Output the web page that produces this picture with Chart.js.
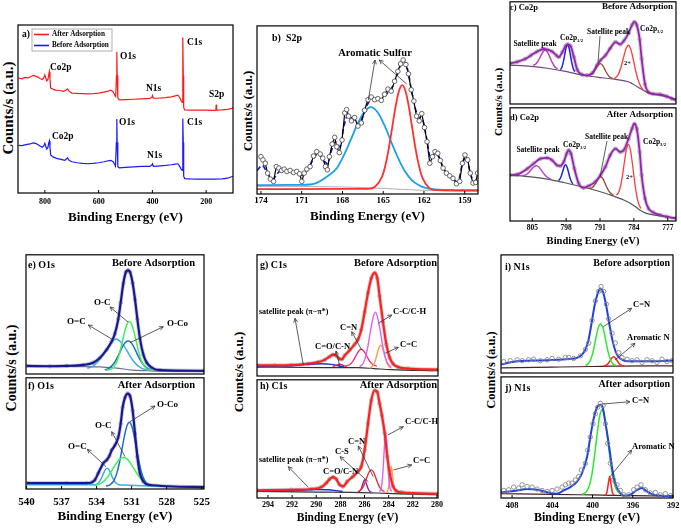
<!DOCTYPE html>
<html><head><meta charset="utf-8">
<script src="https://cdn.jsdelivr.net/npm/chart.js"></script>
<style>
html,body{margin:0;padding:0;background:#fff;}
body{width:681px;height:529px;overflow:hidden;position:relative;font-family:"Liberation Serif","Times New Roman",serif;}
canvas{position:absolute;}
.yt{position:absolute;font-weight:bold;white-space:nowrap;color:#000;transform:translate(-50%,-50%) rotate(-90deg);line-height:1;}
</style></head><body>
<div class="yt" style="left:8px;top:108px;font-size:15px">Counts/s (a.u.)</div>
<div class="yt" style="left:247px;top:111px;font-size:13px">Counts/s (a.u.)</div>
<div class="yt" style="left:498px;top:102px;font-size:11px">Counts/s (a.u.)</div>
<div class="yt" style="left:12px;top:368px;font-size:14px">Counts/s (a.u.)</div>
<div class="yt" style="left:238px;top:372px;font-size:13px">Counts/s (a.u.)</div>
<div class="yt" style="left:491px;top:370px;font-size:12.5px">Counts/s (a.u.)</div>
<script>
// ---------------- DATA (binding energy eV, counts a.u.) ----------------
const axisTitle = 'Binding Energy (eV)';
const aTicks = [800, 600, 400, 200];
const bTicks = [174, 171, 168, 165, 162, 159];
const dTicks = [805, 798, 791, 784, 777];
const fTicks = [540, 537, 534, 531, 528, 525];
const hTicks = [294, 292, 290, 288, 286, 284, 282, 280];
const jTicks = [408, 404, 400, 396, 392];
const seriesNames = ['After Adsorption', 'Before Adsorption'];

// a) survey
const aAfter = [[897.5,68.4],[885,68.0],[875,68.8],[862,68.5],[850,69.5],[842,70],[835,69.6],[826,69.0],[818,68.2],[810,67.6],[804,68.6],[800,70.2],[797,68.6],[793,66.8],[789,67.5],[786,70],[783.5,72.2],[781,68],[778.5,62.5],[770,61.8],[760,61.2],[745,61],[730,60.5],[722,61.2],[716,62],[710,60.6],[700,59.5],[680,59.3],[660,59.2],[640,59],[620,59.2],[600,59.5],[580,60],[565,60.6],[555,61.2],[547,60.5],[541,58.5],[536.5,57.5],[533.5,70],[532.3,84],[531,70],[528.6,56.6],[523.6,55.4],[500,55.6],[470,55.8],[440,56],[410,56.3],[402,56.8],[399.4,58],[396.5,56.4],[380,56.4],[350,56.8],[330,57.2],[315,57.8],[305,58.2],[299,57],[293,55],[289,54],[287.3,80],[286.3,92.6],[285,70],[283.5,51],[280,49.5],[260,49.3],[230,49.4],[200,49.3],[170,49.2],[164,49.3],[162.5,52.6],[161,49.4],[140,49.5],[120,49.8],[100,50.5]];
const aBefore = [[897.5,28.4],[885,28.2],[870,28.8],[855,29.2],[844,29.8],[835,29.5],[826,28.9],[818,28],[810,27.2],[804,28],[800,29.6],[797,28],[793,26.2],[789,27],[786,29.5],[783.2,31],[781,27],[778.3,22.6],[770,21.5],[757,20.6],[740,20],[726,19.4],[720,20.2],[716,21],[710,19.5],[700,18.6],[680,18],[660,17.6],[640,17.4],[620,17.6],[600,18],[580,18.6],[565,19.2],[555,19.4],[546,18.6],[540,17],[537.3,16],[534,30],[532.3,44],[531,30],[528.6,15.6],[523.6,15],[500,15.3],[470,15.6],[440,15.8],[410,15.8],[402,16.6],[399.4,17.4],[396.5,15.8],[380,16],[350,16.4],[330,16.8],[315,17.2],[305,17.4],[299,16],[293,14.2],[289,13.4],[287.3,36],[286.3,44.4],[285,30],[283.5,10],[280,8.6],[260,8.4],[230,8.3],[200,8.3],[170,8.3],[140,8.4],[120,8.8],[111,9.4],[100,10]];

// b) S2p
const bData = [[174.0,22.2],[173.85,20.3],[173.68,18.3],[173.51,12.4],[173.31,8.9],[173.07,7.5],[172.87,16.3],[172.68,15.4],[172.48,14.0],[172.29,14.8],[172.09,13.4],[171.85,14.0],[171.6,12.8],[171.36,13.4],[171.16,12.0],[170.99,7.5],[170.82,12.4],[170.62,14.8],[170.38,16.3],[170.13,22.6],[169.89,25.2],[169.64,23.8],[169.45,21.3],[169.25,16.3],[169.11,14.4],[168.96,22.2],[168.76,29.7],[168.57,33.7],[168.42,28.1],[168.23,24.6],[168.03,32.1],[167.83,48.2],[167.69,50.2],[167.54,46.3],[167.34,43.5],[167.1,45.5],[166.86,40.4],[166.61,42.3],[166.37,49.8],[166.12,56.1],[165.88,57.7],[165.63,56.1],[165.39,56.7],[165.14,55.7],[164.9,59.3],[164.65,62.4],[164.41,61.2],[164.16,67.1],[163.92,73.0],[163.72,77.4],[163.53,79.7],[163.33,77.0],[163.14,71.5],[162.94,62.0],[162.74,55.3],[162.55,46.3],[162.35,43.5],[162.16,47.8],[161.96,39.6],[161.77,31.1],[161.57,18.3],[161.37,22.2],[161.18,25.2],[160.98,24.2],[160.79,19.9],[160.59,15.4],[160.35,12.4],[160.1,10.8],[159.86,9.3],[159.61,6.1],[159.37,7.5],[159.17,18.3],[158.98,23.2],[158.78,20.3],[158.59,12.4],[158.39,6.5],[158.19,6.9],[158.05,12.4]];
const bSmooth = [[174.29,14],[173.9,17],[173.5,12],[173.1,9],[172.7,13],[172.3,14],[171.9,13.5],[171.4,13],[171.0,11],[170.6,14],[170.2,20],[169.8,24],[169.4,20],[169.1,18],[168.8,26],[168.5,31],[168.2,28],[167.9,40],[167.6,47],[167.2,44],[166.8,41],[166.5,46],[166.1,54],[165.8,57],[165.4,56],[165.0,57],[164.6,61],[164.3,64],[164.0,70],[163.7,77],[163.5,79],[163.2,74],[162.9,61],[162.6,50],[162.3,45],[162.1,44],[161.8,33],[161.5,21],[161.2,24],[160.9,22],[160.6,16],[160.2,11],[159.8,8.5],[159.5,7],[159.2,17],[158.9,22],[158.6,13],[158.3,7],[158.02,10]];
const bPeakHi = [[174.29,5.2],[172,5.4],[171,5.4],[170,6.3],[169,11.2],[168.4,15.5],[167.9,23],[167.4,32],[166.9,41.5],[166.4,48.8],[165.9,51.7],[165.4,48.5],[164.9,40.8],[164.4,30.8],[163.9,21.3],[163.4,13.5],[162.9,8.3],[162.4,5.3],[161.9,3.6],[160.9,2.6],[158.02,2.3]];
const bPeakLo = [[174.29,2.9],[168,3],[167,3.1],[166.1,3.1],[165.6,4.3],[165.1,10],[164.85,16.7],[164.6,26.5],[164.35,38.9],[164.1,51.5],[163.85,61],[163.6,64.8],[163.35,61],[163.1,51.4],[162.85,38.6],[162.6,26.1],[162.35,16.2],[162.1,9.4],[161.6,3.5],[161.1,2.3],[158.02,2]];
const bBase = [[174.29,4.6],[168,4.2],[165,3.3],[162,2.2],[158.02,1.8]];

// c) Co2p before
const cEnv = [[809.6,39.7],[808.1,41.3],[806.5,44],[805.3,47.5],[804.0,51.3],[802.6,53.8],[801.9,53.1],[800.9,51.3],[800.0,47.5],[799.5,45.9],[798.8,50.6],[798.1,56.9],[797.7,58.4],[797.1,56.9],[796.4,45.9],[795.7,33.4],[794.7,28.8],[793.7,28.1],[792.6,30.3],[791.6,38.1],[790.9,42.8],[789.9,47.5],[788.9,54.4],[787.8,60.6],[786.8,58.4],[786.1,61.6],[785.1,69.4],[784.4,77.2],[783.9,80.3],[783.4,77.2],[782.8,63.1],[782.4,44.4],[781.7,19.4],[781.0,11.6],[780.0,10],[778.6,9.4],[777.2,7.5],[776.2,5.3],[775.3,3.8]];
const cBg = [[809.6,38.1],[805.3,36.9],[801.9,35],[798.1,31.9],[794.7,28.4],[791.6,26.3],[787.8,24.1],[785,21.5],[784.4,20],[782.4,14.4],[781,10.6],[779,8.8],[777,7],[775.3,4.7]];
const cSat = [[804.8,37.8],[804.3,39],[803.8,41.9],[803.3,46.5],[802.8,50.9],[802.3,52.6],[801.8,50.3],[801.3,45.1],[800.8,39.9],[800.3,36.2],[799.8,34.4]];
const cP12 = [[799.2,33.5],[798.9,35.7],[798.6,40.7],[798.3,48.1],[798.0,55.4],[797.7,58.4],[797.4,55],[797.1,47.4],[796.8,39.6],[796.5,34.2],[796.2,31.6]];
const cSat2 = [[793.4,28],[792.9,28.6],[792.5,29.9],[792.1,32.4],[791.7,35.6],[791.3,38.5],[790.9,39.6],[790.5,38],[790.1,34.8],[789.7,31.1],[789.3,28.1],[788.9,26.2],[788.4,25.1]];
const cCo2 = [[788.1,24.9],[787.6,26.5],[787.1,30.2],[786.6,37.2],[786.1,46.3],[785.6,54.5],[785.1,57.5],[784.6,52.8],[784.1,43],[783.6,31.8],[783.1,23.1],[782.6,17.4],[782.1,13.9]];

// d) Co2p after
const dEnv = [[809.6,40.5],[808.1,41.1],[806.0,46.3],[804.7,50.7],[803.3,55.1],[801.9,55.7],[800.9,53.7],[799.9,49.3],[799.2,48.7],[798.5,52.2],[797.9,59.5],[797.5,62.5],[797.0,59.5],[796.3,46.3],[795.4,33.1],[794.4,29.3],[793.3,31.1],[792.0,34.6],[790.9,40.5],[789.9,47.8],[788.9,58.1],[787.8,63.9],[786.8,61],[786.1,62.5],[785.1,72.7],[784.4,81.5],[783.9,85.9],[783.4,81.5],[782.8,61],[782.4,40.5],[781.7,19.9],[781.0,11.1],[780.0,7.6],[778.6,5.3],[777.2,3.8],[775.3,2.3]];
const dBg = [[809.6,40.5],[805.3,39],[801.9,37],[798.5,34],[795,30.5],[791.6,26.7],[788.2,22],[786.1,18.5],[784.1,14],[782.8,9.7],[781.4,6.7],[778.6,4.4],[775.3,2.3]];
const dSat = [[807.1,40],[806.6,40.4],[806.1,41.5],[805.6,43.4],[805.1,45.9],[804.6,48.1],[804.1,48.8],[803.6,47.5],[803.1,44.7],[802.6,41.7],[802.1,39.3],[801.6,37.8],[801.1,36.8]];
const dP12 = [[799.6,35.7],[799.3,37],[799.0,39.7],[798.7,43.9],[798.4,48],[798.1,49.7],[797.8,47.5],[797.5,42.8],[797.2,38],[796.9,34.7],[796.6,32.9]];
const dSat2 = [[793.3,28.8],[792.8,29],[792.4,30.2],[792.0,32.5],[791.6,35.6],[791.2,38.3],[790.8,39],[790.4,37.4],[790.0,33.7],[789.6,29.8],[789.2,26.6],[788.8,24.5],[788.3,22.8]];
const dCo2 = [[787.6,22.8],[787.1,25.9],[786.7,31.9],[786.3,41.8],[785.9,54],[785.5,64.1],[785.1,67.6],[784.7,62.3],[784.3,50.4],[783.9,36.3],[783.5,24.5],[783.1,16.5],[782.6,11.1]];

// e) O1s before
const eEnv = [[540,6.8],[538,6.5],[536.57,6.8],[535.14,7.6],[534.29,9.5],[533.71,13.6],[533.14,20.4],[532.71,27.2],[532.43,34],[532.14,46.2],[531.94,59.8],[531.71,76.1],[531.49,85.6],[531.31,87],[531.14,85.6],[530.91,76.1],[530.71,62.5],[530.51,46.2],[530.29,29.9],[530,16.3],[529.71,9.5],[529.29,5.4],[528.57,3.3],[524.8,2.7]];
const eOC = [[533.2,3.1],[532.7,4.4],[532.4,7.8],[532.2,12.2],[532.0,18.8],[531.8,27],[531.6,35.3],[531.4,41.6],[531.2,44],[531.0,41.6],[530.8,35.3],[530.6,27],[530.4,18.8],[530.2,12.2],[530.0,7.8],[529.7,4.4],[529.2,3.1]];
const eOdC = [[534.8,4.8],[534.4,6.1],[534.1,8.2],[533.8,11.3],[533.5,15.4],[533.2,19.8],[532.9,24.4],[532.6,27.7],[532.3,29.3],[532.0,27.5],[531.7,24.2],[531.4,19.5],[531.1,14.3],[530.8,10.3],[530.5,7.2],[530.2,5.2],[529.8,3.8],[529.3,3.2]];
const eOCo = [[533.3,3.5],[533.0,4.5],[532.7,6.8],[532.5,9.2],[532.3,12.5],[532.1,16.3],[531.9,20.5],[531.7,24.2],[531.5,26.8],[531.3,27.7],[531.1,26.8],[530.9,24.2],[530.7,20.5],[530.5,16.3],[530.3,12.5],[530.1,9.2],[529.9,6.8],[529.6,4.5],[529.3,3.5]];
const eBg = [[540,6.8],[533.7,6],[532.3,4.9],[530.9,3.3],[529.4,2.7],[524.8,2.2]];

// f) O1s after
const fEnv = [[540,5.3],[536.57,5.3],[534.86,5.3],[534.43,5.9],[534.14,8.3],[533.86,14.2],[533.43,23.1],[533.14,26],[532.91,29.6],[532.71,34.9],[532.43,39.3],[532.14,46.7],[531.94,58.6],[531.77,73.4],[531.57,82.2],[531.34,85.8],[531.14,83.7],[530.91,70.4],[530.71,49.7],[530.51,29],[530.29,14.2],[530,6.8],[529.57,3.8],[524.8,1.8]];
const fOC = [[534.2,3],[533.8,4.2],[533.5,6],[533.2,9],[532.9,13.2],[532.6,18.3],[532.3,23.3],[532.0,27.1],[531.7,28.4],[531.4,27.1],[531.1,23.3],[530.8,18.3],[530.5,13.2],[530.2,9],[529.9,6],[529.6,4.2],[529.2,3]];
const fOCo = [[533.2,2.7],[532.9,3.5],[532.6,6.3],[532.4,10.3],[532.2,16.8],[532.0,26.1],[531.8,37.4],[531.6,48.5],[531.4,56.9],[531.2,60],[531.0,56.9],[530.8,48.5],[530.6,37.4],[530.4,26.1],[530.2,16.8],[530.0,10.3],[529.8,6.3],[529.5,3.5],[529.2,2.7]];
const fOdC = [[540,3.8],[536,3.8],[534.5,3.8],[534.1,3.9],[533.9,4.9],[533.7,7.5],[533.55,10.6],[533.4,14.3],[533.25,17.4],[533.1,18.6],[532.95,17.4],[532.8,14.3],[532.65,10.6],[532.5,7.5],[532.3,4.9],[532.1,3.9],[531.5,3.5],[530,3],[528,2.3],[524.8,1.2]];

// g) C1s before
const gEnv = [[294.91,8.8],[293.45,8.8],[292.07,9],[290.69,10.1],[289.86,11.4],[289.3,13.3],[288.89,16],[288.61,17.6],[288.34,16.8],[288.06,14.1],[287.87,13.8],[287.65,16.8],[287.23,21.3],[286.82,26.1],[286.54,30.1],[286.27,38],[285.99,52.7],[285.71,68.6],[285.44,80.6],[285.16,85.1],[284.94,80.6],[284.75,66],[284.47,44.7],[284.19,26.1],[283.92,15.4],[283.64,10.1],[283.23,7.4],[282.4,6.1],[279.91,5.3]];
const gCC = [[286.4,7.7],[286.15,10],[286.0,13.1],[285.85,18.2],[285.7,25.5],[285.55,34.3],[285.4,43],[285.25,49.6],[285.1,52.7],[284.95,49.6],[284.8,43],[284.65,34.3],[284.5,25.5],[284.35,18.2],[284.2,13.1],[284.05,10],[283.8,7.5]];
const gCdC = [[285.56,6.6],[285.41,7.3],[285.26,9.1],[285.16,11.2],[285.06,14.3],[284.96,18],[284.86,21.7],[284.76,24.5],[284.66,25.5],[284.56,24.5],[284.46,21.7],[284.36,18],[284.26,14.3],[284.16,11.2],[284.06,9.1],[283.91,7.3],[283.76,6.6]];
const gCN = [[287.57,8.2],[287.32,8.9],[287.17,9.9],[287.02,11.5],[286.87,13.8],[286.72,16.5],[286.57,19.2],[286.42,21.2],[286.27,22.1],[286.12,21.2],[285.97,19.2],[285.82,16.5],[285.67,13.8],[285.52,11.5],[285.37,9.9],[285.22,8.9],[284.97,8.2]];
const gCO = [[288.65,8],[288.45,8.3],[288.3,8.9],[288.15,9.5],[288.06,9.7],[287.95,9.5],[287.8,8.9],[287.65,8.3],[287.45,8]];
const gSat = [[294.91,7.4],[293.45,8],[292.07,8.5],[290.69,9.6],[289.58,10.1],[288.75,9.6],[288.2,8.5],[287.65,7.4]];
const gBg = [[294.91,7.4],[289.3,6.9],[286.54,6.9],[285.16,6.1],[283.78,5.3],[279.91,4.3]];

// h) C1s after
const hEnv = [[294.91,6.4],[292.07,7],[290.41,7.6],[289.58,9.2],[289.17,12.6],[288.89,16],[288.61,17.6],[288.34,16],[288.06,11.2],[287.78,9.8],[287.43,14],[286.96,18.2],[286.54,22.4],[286.27,26.6],[285.99,40.6],[285.71,63],[285.44,82.6],[285.16,91],[284.94,89.6],[284.75,80],[284.56,70],[284.33,55],[284.11,35],[283.89,20],[283.64,10],[283.37,6],[282.95,4.8],[279.91,3.6]];
const hCC = [[284.75,5.5],[284.6,9],[284.5,18],[284.4,35],[284.32,48],[284.25,54.6],[284.18,48],[284.1,35],[284.0,18],[283.9,9],[283.75,5.5]];
const hCdC = [[284.15,4.5],[284.05,7],[283.95,13],[283.87,21],[283.78,26.6],[283.7,21],[283.62,13],[283.52,7],[283.42,4.5]];
const hCN = [[286.54,5.4],[286.34,6.5],[286.19,8.2],[286.04,11.1],[285.89,15],[285.74,19.2],[285.59,22.5],[285.44,23.8],[285.29,22.5],[285.14,19.2],[284.99,15],[284.84,11.1],[284.69,8.2],[284.54,6.5],[284.34,5.4]];
const hCS = [[286.55,5],[286.4,5.8],[286.27,8],[286.15,11.5],[286.06,14.3],[285.99,15.4],[285.92,14.3],[285.83,11.5],[285.71,8],[285.58,5.8],[285.43,5]];
const hSat = [[294.91,5.6],[293,6],[291,6.7],[290,7.1],[289,7],[288.3,6.2],[287.8,5.5]];
const hBg = [[294.91,5.6],[290,5],[287,4.8],[285,4.2],[283,3.5],[279.91,2.8]];

// i) N1s before
const iPts = [[408.83,9.6],[408.17,10.4],[407.5,11.2],[407.0,10.4],[406.35,11.2],[405.85,11.7],[405.19,10.4],[404.52,11.2],[404.02,12.3],[403.37,11.7],[402.7,13.1],[402.37,13.1],[401.88,12.3],[401.21,14.5],[400.71,19.9],[400.38,25.4],[400.05,44.5],[399.72,60.9],[399.39,69.1],[399.15,73.2],[398.89,69.1],[398.63,58.2],[398.4,45.9],[398.06,33.6],[397.73,25.4],[397.4,17.2],[397.07,13.1],[396.57,11.7],[396.07,10.4],[395.57,11.2],[395.08,9],[394.58,11.2],[394.08,10.4],[393.59,9],[393.09,11.7],[392.59,9.8],[392.1,10.4]];
const iEnv = [[409.09,7],[408.5,8.5],[407.5,10],[406,10.5],[404.5,10.8],[403,11.5],[402,12],[401.5,13],[401,16],[400.7,20],[400.4,28],[400.1,42],[399.8,57],[399.5,67],[399.2,71.5],[398.9,67],[398.6,55],[398.3,40],[398.0,27],[397.7,18],[397.4,13.5],[397,11],[396.5,10],[395.5,10],[394.5,10],[393.5,10],[392,10.5]];
const iCN = [[400.7,6.3],[400.4,8.1],[400.2,11.1],[400.0,16.2],[399.8,23.8],[399.6,32.3],[399.4,39.1],[399.2,41.8],[399.0,39.1],[398.8,32.3],[398.6,23.8],[398.4,16.2],[398.2,11.1],[398.0,8.1],[397.7,6.3]];
const iArN = [[398.9,6],[398.7,6.3],[398.5,7.5],[398.3,9.8],[398.1,12.5],[397.9,13.8],[397.7,12.5],[397.5,9.8],[397.3,7.5],[397.1,6.3],[396.9,6]];
const iBg = [[409.09,4.4],[404,5],[400,5.5],[398,5.8],[392,6]];

// j) N1s after
const jPts = [[408.83,6.2],[408.34,6.8],[407.84,9],[407.34,8.2],[407.01,10.9],[406.51,9.5],[406.01,9],[405.51,7.4],[405.02,6.2],[404.52,5.4],[404.02,6.2],[403.53,7.4],[403.03,9],[402.7,10.9],[402.37,12.3],[402.04,12.3],[401.71,15],[401.38,17.7],[401.11,23.1],[400.71,28.6],[400.48,39.5],[400.22,50.4],[399.95,61.3],[399.72,69.5],[399.49,74.9],[399.22,78.2],[398.95,76.3],[398.73,61.3],[398.5,45],[398.23,28.6],[397.9,15],[397.56,10.9],[397.23,6.2],[396.9,2.7],[396.41,2.7],[395.91,6.8],[395.57,9],[395.18,10.9],[394.75,6.8],[394.25,4.1],[393.75,4.6],[393.26,2.7],[392.76,3.5],[392.26,1.9]];
const jEnv = [[409.09,4.6],[408,5.5],[407.5,6.2],[406.5,7.4],[405.5,6.8],[404.19,4.1],[403.53,3.5],[402.86,6.3],[402.2,9],[401.54,13.6],[401.05,20.4],[400.54,34],[400.22,50.4],[399.89,65.4],[399.55,74.9],[399.25,77.1],[399.0,75],[398.72,62],[398.39,45],[398.06,25],[397.73,12],[397.4,6],[396.9,1.9],[396.24,2.7],[395.57,6.8],[395.08,8.2],[394.58,5.4],[393.92,2.7],[392,1.4]];
const jCN = [[401.05,3],[400.75,4.1],[400.45,7.4],[400.25,12.3],[400.05,20.2],[399.85,31.6],[399.65,45.3],[399.45,58.8],[399.25,69],[399.05,72.8],[398.85,69],[398.65,58.8],[398.45,45.3],[398.25,31.6],[398.05,20.2],[397.85,12.3],[397.65,7.4],[397.35,4.1],[397.05,3]];
const jArN = [[398.75,2.5],[398.6,4],[398.5,8],[398.4,13.5],[398.3,17.7],[398.2,13.5],[398.1,8],[398.0,4],[397.85,2.5]];
const jBg = [[409.09,3.5],[404,3],[400,2.5],[396,2],[392,1.5]];

// ---------------- RENDERING ----------------
const FONT = '"Liberation Serif","Times New Roman",serif';
const xy = a => a.map(p => ({x: p[0], y: p[1]}));
function line(arr, color, w, more) {
  return Object.assign({data: xy(arr), borderColor: color, backgroundColor: color, borderWidth: w,
    pointRadius: 0, fill: false, cubicInterpolationMode: 'monotone'}, more || {});
}
function band(arr) {
  return line(arr, '#d2d2d2', 4, {pointRadius: 1.7, pointBorderColor: '#9c9c9c',
    pointBackgroundColor: 'rgba(255,255,255,0)', pointBorderWidth: 0.8});
}
function pts(arr, more) {
  return line(arr, '#888', 0, Object.assign({showLine: false, pointRadius: 2.2, pointBorderColor: '#888',
    pointBackgroundColor: 'rgba(255,255,255,0)', pointBorderWidth: 0.9}, more || {}));
}

const deco = {
  id: 'deco',
  afterDatasetsDraw(chart, args, o) {
    const ctx = chart.ctx, a = chart.chartArea;
    const ox = chart.canvas.offsetLeft, oy = chart.canvas.offsetTop;
    ctx.save();
    ctx.strokeStyle = '#000'; ctx.lineWidth = 1.2;
    ctx.strokeRect(a.left, a.top, a.right - a.left, a.bottom - a.top);
    const xs = chart.scales.x;
    ctx.lineWidth = 1;
    (o.ticks || []).forEach(v => {
      const px = xs.getPixelForValue(v);
      ctx.beginPath(); ctx.moveTo(px, a.bottom); ctx.lineTo(px, a.bottom - 3); ctx.stroke();
    });
    (o.arrows || []).forEach(r => {
      const x1 = r[0] - ox, y1 = r[1] - oy, x2 = r[2] - ox, y2 = r[3] - oy;
      ctx.strokeStyle = '#333'; ctx.lineWidth = 0.8;
      ctx.beginPath(); ctx.moveTo(x1, y1); ctx.lineTo(x2, y2); ctx.stroke();
      if (r[4] !== 0) {
        const ang = Math.atan2(y2 - y1, x2 - x1), L = 4.5;
        ctx.beginPath();
        ctx.moveTo(x2 - L * Math.cos(ang - 0.45), y2 - L * Math.sin(ang - 0.45));
        ctx.lineTo(x2, y2);
        ctx.lineTo(x2 - L * Math.cos(ang + 0.45), y2 - L * Math.sin(ang + 0.45));
        ctx.stroke();
      }
    });
    ctx.fillStyle = '#000'; ctx.textBaseline = 'middle';
    (o.texts || []).forEach(t => {
      const s = t.s || 9;
      ctx.font = 'bold ' + s + 'px ' + FONT;
      ctx.textAlign = t.a || 'left';
      ctx.fillText(t.t, t.x - ox, t.y - oy);
      if (t.sub) {
        const w = ctx.measureText(t.t).width;
        ctx.font = 'bold ' + (s * 0.62) + 'px ' + FONT;
        ctx.textAlign = 'left';
        ctx.fillText(t.sub, t.x - ox + w, t.y - oy + s * 0.32);
      }
    });
    if (o.legend) {
      const g = o.legend;
      ctx.strokeStyle = '#999'; ctx.lineWidth = 0.8;
      ctx.strokeRect(g.x - ox, g.y - oy, g.w, g.h);
      chart.data.datasets.forEach((d, i) => {
        const yy = g.y - oy + 5.5 + i * 11;
        ctx.strokeStyle = d.borderColor; ctx.lineWidth = 1.6;
        ctx.beginPath(); ctx.moveTo(g.x - ox + 2, yy); ctx.lineTo(g.x - ox + 17, yy); ctx.stroke();
        ctx.fillStyle = '#000'; ctx.font = 'bold 7.2px ' + FONT; ctx.textAlign = 'left';
        ctx.fillText(d.label, g.x - ox + 20, yy);
      });
    }
    ctx.restore();
  }
};

function makePanel(p) {
  const padL = 16, padR = 16, padT = 4, padB = 3;
  const hasX = !!p.ticks;
  const L = Math.round(p.box[0]), T = Math.round(p.box[1]), R = Math.round(p.box[2]), B = Math.round(p.box[3]);
  const axisH = hasX ? p.axisH : padB;
  const W = R - L + padL + padR, H = B - T + padT + axisH;
  const cv = document.createElement('canvas');
  cv.width = W; cv.height = H;
  Object.assign(cv.style, {left: (L - padL) + 'px', top: (T - padT) + 'px', width: W + 'px', height: H + 'px'});
  document.body.appendChild(cv);
  return new Chart(cv, {
    type: 'line',
    data: {datasets: p.datasets},
    options: {
      responsive: false, maintainAspectRatio: false, animation: false, devicePixelRatio: 1,
      layout: {padding: {left: padL, right: padR, top: padT, bottom: hasX ? 0 : padB}},
      plugins: {legend: {display: false}, tooltip: {enabled: false},
        deco: {texts: p.texts, arrows: p.arrows, ticks: p.ticks, legend: p.legend}},
      scales: {
        x: {type: 'linear', reverse: true, min: p.xr[0], max: p.xr[1], display: hasX,
          grid: {display: false, drawTicks: false}, border: {display: false},
          ticks: {color: '#000', font: {family: FONT, size: p.tickSize || 9, weight: 'bold'},
            padding: p.tickPad || 2, maxRotation: 0, autoSkip: false, callback: v => String(v)},
          afterBuildTicks: s => { if (p.ticks) s.ticks = p.ticks.map(v => ({value: v})); },
          afterFit: s => { s.height = axisH; },
          title: {display: hasX, text: axisTitle, color: '#000',
            font: {family: FONT, size: p.titleSize || 13, weight: 'bold'}, padding: 0}
        },
        y: {display: false, min: 0, max: 100}
      }
    },
    plugins: [deco]
  });
}

// a) survey
makePanel({box: [18.3, 25, 233, 192.5], xr: [100, 900], ticks: aTicks, tickSize: 8, tickPad: 4, titleSize: 13, axisH: 32,
  datasets: [
    line(aAfter, '#ff1a1a', 1.2, {label: seriesNames[0], cubicInterpolationMode: 'default', tension: 0}),
    line(aBefore, '#1a1aff', 1.2, {label: seriesNames[1], cubicInterpolationMode: 'default', tension: 0})
  ],
  legend: {x: 32, y: 29, w: 80, h: 22},
  texts: [
    {t: 'a)', x: 22, y: 35, s: 9.5},
    {t: 'Co2p', x: 50, y: 68, s: 9.5}, {t: 'O1s', x: 120, y: 57, s: 9.5}, {t: 'N1s', x: 146, y: 89, s: 9.5},
    {t: 'C1s', x: 187, y: 43, s: 9.5}, {t: 'S2p', x: 209, y: 95, s: 9.5},
    {t: 'Co2p', x: 52, y: 137, s: 9.5}, {t: 'O1s', x: 119, y: 123, s: 9.5}, {t: 'N1s', x: 147, y: 156, s: 9.5},
    {t: 'C1s', x: 187, y: 123, s: 9.5}
  ]});

// b) S2p
makePanel({box: [256.7, 25, 478.3, 194.3], xr: [158.02, 174.29], ticks: bTicks, tickSize: 9, tickPad: 1, titleSize: 13, axisH: 30,
  datasets: [
    line(bData, '#000', 1.2, {cubicInterpolationMode: 'default', tension: 0, pointRadius: 2.3, pointBorderColor: '#555',
      pointBackgroundColor: '#fff', pointBorderWidth: 0.9}),
    line(bSmooth, '#1515d0', 1.6, {borderDash: [5, 3]}),
    line(bPeakLo, '#ff3030', 1.8),
    line(bPeakHi, '#1ea0e6', 1.8),
    line(bBase, '#b0b0b0', 1)
  ],
  texts: [{t: 'b)  S2p', x: 272, y: 38, s: 10}, {t: 'Aromatic Sulfur', x: 375, y: 53, s: 10.5, a: 'center'}],
  arrows: [[368.3, 100, 375, 60], [406.7, 84, 379.3, 60]]});

// c) Co2p before
makePanel({box: [509.5, 1, 676, 107.3], xr: [775.3, 809.6],
  datasets: [
    line(cEnv, '#9b1fb5', 1.8), line(cSat, '#c23bc2', 1.5), line(cP12, '#2424e0', 1.5),
    line(cSat2, '#8b4a2b', 1.3), line(cCo2, '#ff3b3b', 1.3), line(cBg, '#6d4a7d', 1.2), band(cEnv)
  ],
  texts: [
    {t: 'c) Co2p', x: 510, y: 8, s: 8.5}, {t: 'Before Adsorption', x: 673, y: 7, s: 9, a: 'right'},
    {t: 'Satellite peak', x: 535, y: 44, s: 7.5, a: 'center'}, {t: 'Co2p', sub: '1/2', x: 560, y: 38, s: 7.5},
    {t: 'Satellite peak', x: 587, y: 32, s: 7.5}, {t: 'Co2p', sub: '3/2', x: 640, y: 29, s: 7.5},
    {t: '2+', x: 624, y: 63, s: 6.5}
  ],
  arrows: [[598, 63, 600, 36, 0]]});

// d) Co2p after
makePanel({box: [509.5, 107.3, 676, 221], xr: [775.3, 809.6], ticks: dTicks, tickSize: 7.5, tickPad: 3, titleSize: 10.5, axisH: 27,
  datasets: [
    line(dEnv, '#9b1fb5', 1.8), line(dSat, '#b44bc8', 1.5), line(dP12, '#2424e0', 1.5),
    line(dSat2, '#8b4a2b', 1.3), line(dCo2, '#ff3b3b', 1.3), line(dBg, '#555', 1.2), band(dEnv)
  ],
  texts: [
    {t: 'd) Co2p', x: 510, y: 118, s: 8.5}, {t: 'After Adsorption', x: 673, y: 115, s: 9, a: 'right'},
    {t: 'Satellite peak', x: 538, y: 150, s: 7.5, a: 'center'}, {t: 'Co2p', sub: '1/2', x: 563, y: 145, s: 7.5},
    {t: 'Satellite peak', x: 585, y: 137, s: 7.5}, {t: 'Co2p', sub: '3/2', x: 643, y: 142, s: 7.5},
    {t: '2+', x: 626, y: 177, s: 6.5}
  ],
  arrows: [[600, 177, 607, 141, 0]]});

// e) O1s before
makePanel({box: [26, 254, 204, 376.7], xr: [524.8, 540.05],
  datasets: [
    line(eEnv, '#161696', 2.2), line(eOC, '#3df05a', 1.5), line(eOCo, '#1f6fd0', 1.5),
    line(eOdC, '#3aaee8', 1.5), line(eBg, '#6e6a9a', 1.2), band(eEnv)
  ],
  texts: [
    {t: 'e) O1s', x: 28, y: 265, s: 10}, {t: 'Before Adsorption', x: 195, y: 263, s: 10.5, a: 'right'},
    {t: 'O-C', x: 94, y: 303, s: 9}, {t: 'O=C', x: 67, y: 322, s: 9}, {t: 'O-Co', x: 167, y: 324, s: 9}
  ],
  arrows: [[128, 322, 110, 307], [113.3, 340, 88.3, 325], [130, 342.7, 163.3, 326.7]]});

// f) O1s after
makePanel({box: [26, 376.7, 204, 489.3], xr: [524.8, 540.05], ticks: fTicks, tickSize: 11, tickPad: 7, titleSize: 13, axisH: 35,
  datasets: [
    line(fEnv, '#161696', 2.2), line(fOC, '#3df05a', 1.5), line(fOCo, '#1f6fd0', 1.5),
    line(fOdC, '#3aaee8', 1.5), band(fEnv)
  ],
  texts: [
    {t: 'f) O1s', x: 28, y: 386, s: 10}, {t: 'After Adsorption', x: 195, y: 385, s: 10.5, a: 'right'},
    {t: 'O-Co', x: 157, y: 405, s: 9}, {t: 'O-C', x: 95, y: 426, s: 9}, {t: 'O=C', x: 68, y: 447, s: 9}
  ],
  arrows: [[130, 421.7, 155, 406], [125, 456.7, 111.7, 431.7], [106, 466.7, 87.3, 449.3]]});

// g) C1s before
makePanel({box: [257.3, 254, 438.3, 379.3], xr: [279.91, 294.91],
  datasets: [
    line(gEnv, '#ff2020', 2.2), line(gCC, '#df5fef', 1.4), line(gCdC, '#ff9a50', 1.4), line(gCN, '#e8357a', 1.4),
    line(gCO, '#d02060', 1.3), line(gSat, '#2030d0', 1.4), line(gBg, '#333', 1.1), band(gEnv)
  ],
  texts: [
    {t: 'g) C1s', x: 260, y: 265, s: 10}, {t: 'Before Adsorption', x: 437, y: 263, s: 10.5, a: 'right'},
    {t: 'satellite peak (π−π*)', x: 259, y: 312, s: 8}, {t: 'C=N', x: 340, y: 328, s: 8.5},
    {t: 'C=O/C-N', x: 315, y: 347, s: 8.5}, {t: 'C-C/C-H', x: 393, y: 312, s: 8.5}, {t: 'C=C', x: 400, y: 345, s: 8.5}
  ],
  arrows: [[303.3, 365, 295, 318.3], [361.7, 350, 351.7, 331.7], [340, 367, 336, 351], [378.3, 323.3, 391.7, 315], [385, 353.3, 398.3, 347.3]]});

// h) C1s after
makePanel({box: [257.3, 379.3, 438.3, 498.3], xr: [279.91, 294.91], ticks: hTicks, tickSize: 8, tickPad: 2, titleSize: 11.5, axisH: 27,
  datasets: [
    line(hEnv, '#ff2020', 2.2), line(hCC, '#e060f0', 1.4), line(hCdC, '#ff9a50', 1.4), line(hCN, '#e83040', 1.4),
    line(hCS, '#8a22b0', 1.4), line(hSat, '#2030d0', 1.4), line(hBg, '#333', 1.1), band(hEnv)
  ],
  texts: [
    {t: 'h) C1s', x: 260, y: 386, s: 10}, {t: 'After Adsorption', x: 437, y: 385, s: 10.5, a: 'right'},
    {t: 'C-C/C-H', x: 405, y: 422, s: 8.5}, {t: 'C=N', x: 348, y: 442, s: 8.5}, {t: 'C-S', x: 335, y: 452, s: 8.5},
    {t: 'C=C', x: 413, y: 461, s: 8.5}, {t: 'C=O/C-N', x: 323, y: 472, s: 8.5},
    {t: 'satellite peak (π−π*)', x: 259, y: 460, s: 8}
  ],
  arrows: [[387.7, 435, 403.3, 426.7], [373.3, 476.7, 358.3, 446], [368.3, 481.7, 340, 456.7], [393.3, 470, 411.7, 465], [308.3, 487.3, 288.3, 466.7]]});

// i) N1s before
makePanel({box: [500.7, 254, 672.7, 376], xr: [392, 409.1],
  datasets: [
    pts(iPts), line(iEnv, '#2040e0', 2), line(iCN, '#2aea2a', 1.5), line(iArN, '#ff2020', 1.5), line(iBg, '#4a2020', 1.2)
  ],
  texts: [
    {t: 'i) N1s', x: 505, y: 267, s: 10}, {t: 'Before adsorption', x: 670, y: 263, s: 10, a: 'right'},
    {t: 'C=N', x: 633, y: 305, s: 8.5}, {t: 'Aromatic N', x: 627, y: 338, s: 8.5}
  ],
  arrows: [[603.3, 326.7, 631.7, 308.3], [615, 360, 635, 343.3]]});

// j) N1s after
makePanel({box: [500.7, 376, 672.7, 498.3], xr: [392, 409.1], ticks: jTicks, tickSize: 8.5, tickPad: 3, titleSize: 12, axisH: 27,
  datasets: [
    pts(jPts), line(jEnv, '#2040e0', 2), line(jCN, '#2aea2a', 1.5), line(jArN, '#ff2020', 1.5), line(jBg, '#4a2020', 1.2)
  ],
  texts: [
    {t: 'j) N1s', x: 505, y: 388, s: 10}, {t: 'After adsorption', x: 670, y: 384, s: 10, a: 'right'},
    {t: 'C=N', x: 632, y: 401, s: 8.5}, {t: 'Aromatic N', x: 632, y: 447, s: 8.5}
  ],
  arrows: [[602.7, 404, 630, 401.7], [610, 476.7, 631.7, 450]]});
</script>
</body></html>
